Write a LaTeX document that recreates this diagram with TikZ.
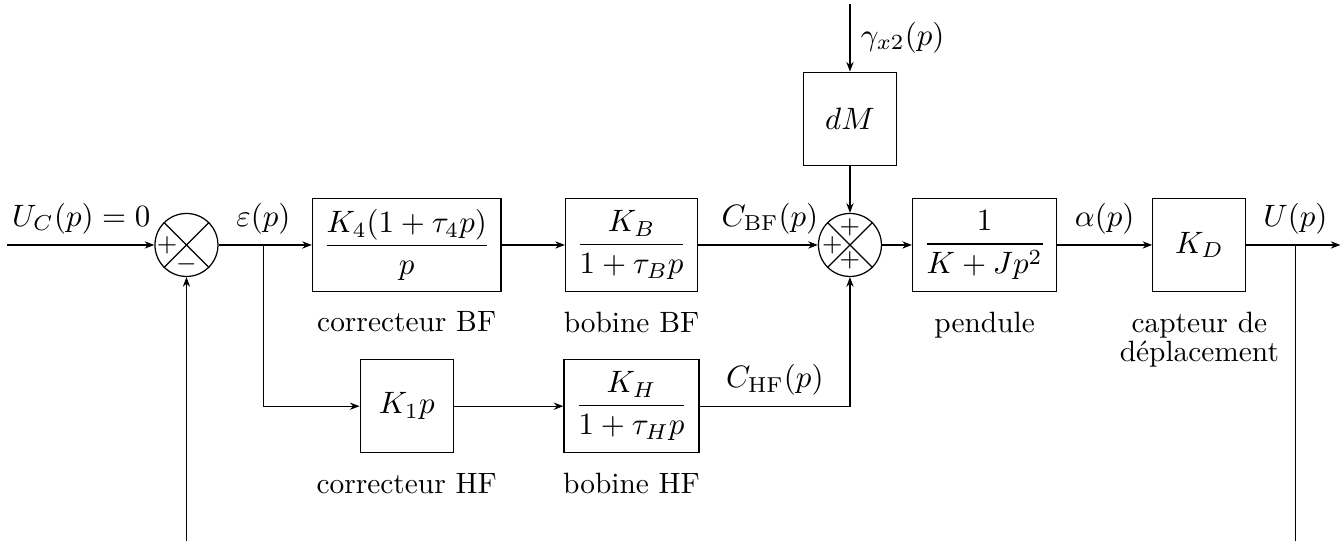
\documentclass[tikz,border=0pt]{standalone}
\usepackage{amsmath}
\usepackage{tikz}
\usetikzlibrary{arrows.meta, positioning, calc}

\begin{document}
\begin{tikzpicture}[
    font=\fontsize{10.3}{12.4}\selectfont,
    node distance=0.75cm,
    block/.style={rectangle, draw, minimum width=1.057cm, minimum height=1.057cm, align=center},
    sumjct/.style={circle, draw, minimum size=0.716cm, inner sep=0pt},
    sign/.style={font=\footnotesize, inner sep=0pt},
    caption/.style={align=center, font=\fontsize{9.5}{11.4}\selectfont},
    arrow/.style={-{Stealth[length=1.1mm]}},
]
    \useasboundingbox (0,2.784) rectangle (15.273,-3.364);

    % upper chain
    \node[sumjct] (sum1) at (2.119,0) {};
    \node[block, minimum width=2.11cm, right=1.06cm of sum1] (corrBF) {$\dfrac{K_4(1+\tau_4 p)}{p}$};
    \node[block, minimum width=1.5cm, right=0.72cm of corrBF] (bobBF) {$\dfrac{K_B}{1+\tau_B p}$};
    \node[sumjct, right=1.36cm of bobBF] (sum2) {};
    \node[block, minimum width=1.636cm, right=0.34cm of sum2] (pend) {$\dfrac{1}{K+Jp^2}$};
    \node[block, right=1.08cm of pend] (capt) {$K_D$};
    \node[block, above=0.534cm of sum2] (dM) {$dM$};

    % lower chain
    \node[block, below=0.761cm of corrBF] (corrHF) {$K_1 p$};
    \node[block, minimum width=1.534cm, below=0.761cm of bobBF] (bobHF) {$\dfrac{K_H}{1+\tau_H p}$};

    % captions
    \node[caption, below=0.1cm of corrBF] (capCorrBF) {correcteur BF};
    \node[caption, below=0.1cm of bobBF] (capBobBF) {bobine BF};
    \node[caption, below=0.1cm of pend] (capPend) {pendule};
    \node[caption, below=0.1cm of capt] (capCapt) {capteur de\\[-2pt]d\'eplacement};
    \node[caption, below=0.1cm of corrHF] (capCorrHF) {correcteur HF};
    \node[caption, below=0.1cm of bobHF] (capBobHF) {bobine HF};

    % summing junctions
    \foreach \s in {sum1, sum2} {
        \draw (\s.north west) -- (\s.south east);
        \draw (\s.north east) -- (\s.south west);
    }
    \node[sign] at ([xshift=-0.22cm]sum1.center) {$+$};
    \node[sign] at ([yshift=-0.22cm]sum1.center) {$-$};
    \node[sign] at ([xshift=-0.2cm]sum2.center) {$+$};
    \node[sign] at ([yshift=0.2cm]sum2.center) {$+$};
    \node[sign] at ([yshift=-0.18cm]sum2.center) {$+$};

    % free ends and branch points
    \coordinate[left=1.67cm of sum1] (in);
    \coordinate[right=1.068cm of capt] (out);
    \coordinate (brEps) at ($(sum1.east)!0.48!(corrBF.west)$);
    \coordinate (brU) at ($(capt.east)!0.52!(out)$);
    \coordinate[above=0.773cm of dM] (gtop);
    \coordinate (fbR) at (brU |- 0,-3.364);
    \coordinate (fbL) at (sum1 |- fbR);

    % signal labels
    \node[above right, xshift=-2pt] at (in) (lUc) {$U_C(p)=0$};
    \node[above] at (brEps) (lEps) {$\varepsilon(p)$};
    \node[above] at ($(bobBF.east)!0.6!(sum2.west)$) (lCbf) {$C_{\mathrm{BF}}(p)$};
    \node[above] at ($(pend.east)!0.5!(capt.west)$) (lAlpha) {$\alpha(p)$};
    \node[above] at (brU) (lU) {$U(p)$};
    \node[right] at ($(gtop)!0.5!(dM.north)$) (lGam) {$\gamma_{x2}(p)$};
    \node[above] at ($(bobHF.east)!0.5!(sum2 |- bobHF)$) (lChf) {$C_{\mathrm{HF}}(p)$};

    % connectors
    \draw[arrow] (in) -- (sum1);
    \draw[arrow] (sum1) -- (corrBF);
    \draw[arrow] (corrBF) -- (bobBF);
    \draw[arrow] (bobBF) -- (sum2);
    \draw[arrow] (sum2) -- (pend);
    \draw[arrow] (pend) -- (capt);
    \draw[arrow] (capt) -- (out);
    \draw[arrow] (gtop) -- (dM);
    \draw[arrow] (dM) -- (sum2);
    \draw[arrow] (brEps) |- (corrHF);
    \draw[arrow] (corrHF) -- (bobHF);
    \draw[arrow] (bobHF) -| (sum2);
    \draw (brU) -- (fbR);
    \draw[arrow] (fbL) -- (sum1);
\end{tikzpicture}
\end{document}
